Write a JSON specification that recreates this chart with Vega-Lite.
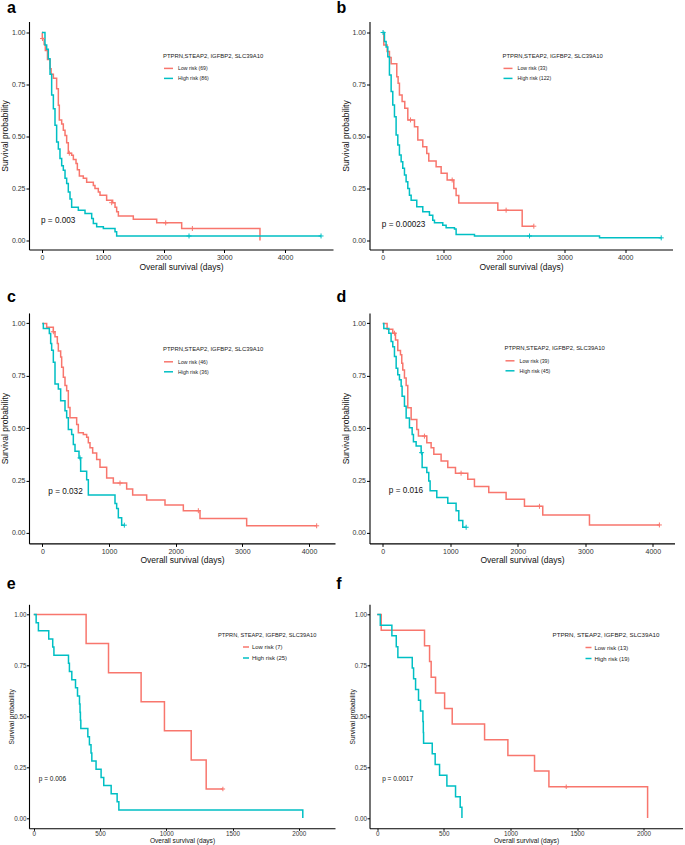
{
"$schema": "https://vega.github.io/schema/vega-lite/v6.json",
"padding": {"left": 0, "top": -0.5, "right": 0, "bottom": 0},
"background": "white",
"config": {
  "font": "Liberation Sans",
  "view": {"stroke": null},
  "line": {"strokeWidth": 1.5},
  "axis": {"grid": false, "domainColor": "#000", "tickColor": "#000", "labelColor": "#333", "titleColor": "#111", "titleFontWeight": "normal", "domainWidth": 1.1, "tickWidth": 1, "labelFontSize": 7, "titleFontSize": 8.5, "tickSize": 3, "labelPadding": 1, "titlePadding": 1.5},
  "title": {"anchor": "start", "frame": "bounds", "fontSize": 16, "fontWeight": "bold", "baseline": "alphabetic", "color": "#000"},
  "legend": {"orient": "none", "titleFontWeight": "normal", "titleColor": "#222", "labelColor": "#222", "symbolType": "stroke", "symbolStrokeWidth": 1.5, "padding": 0, "labelOffset": 4, "titleLimit": 300}
},
"datasets": {
 "a": [
  {"group":"Low risk (69)","time":0,"surv":1},{"group":"Low risk (69)","time":5,"surv":0.971},{"group":"Low risk (69)","time":35,"surv":0.942},{"group":"Low risk (69)","time":55,"surv":0.913},{"group":"Low risk (69)","time":90,"surv":0.87},{"group":"Low risk (69)","time":132,"surv":0.826},{"group":"Low risk (69)","time":150,"surv":0.8},{"group":"Low risk (69)","time":187,"surv":0.78},{"group":"Low risk (69)","time":241,"surv":0.73},{"group":"Low risk (69)","time":269,"surv":0.65},{"group":"Low risk (69)","time":285,"surv":0.58},{"group":"Low risk (69)","time":324,"surv":0.56},{"group":"Low risk (69)","time":351,"surv":0.53},{"group":"Low risk (69)","time":379,"surv":0.505},{"group":"Low risk (69)","time":406,"surv":0.47},{"group":"Low risk (69)","time":433,"surv":0.42},{"group":"Low risk (69)","time":488,"surv":0.41},{"group":"Low risk (69)","time":516,"surv":0.39},{"group":"Low risk (69)","time":560,"surv":0.37},{"group":"Low risk (69)","time":582,"surv":0.34},{"group":"Low risk (69)","time":615,"surv":0.31},{"group":"Low risk (69)","time":680,"surv":0.3},{"group":"Low risk (69)","time":735,"surv":0.28},{"group":"Low risk (69)","time":845,"surv":0.265},{"group":"Low risk (69)","time":872,"surv":0.25},{"group":"Low risk (69)","time":927,"surv":0.234},{"group":"Low risk (69)","time":955,"surv":0.218},{"group":"Low risk (69)","time":1064,"surv":0.194},{"group":"Low risk (69)","time":1163,"surv":0.182},{"group":"Low risk (69)","time":1202,"surv":0.16},{"group":"Low risk (69)","time":1229,"surv":0.138},{"group":"Low risk (69)","time":1257,"surv":0.118},{"group":"Low risk (69)","time":1503,"surv":0.102},{"group":"Low risk (69)","time":1888,"surv":0.085},{"group":"Low risk (69)","time":2299,"surv":0.058},{"group":"Low risk (69)","time":3588,"surv":0},
  {"group":"High risk (86)","time":0,"surv":1},{"group":"High risk (86)","time":49,"surv":0.94},{"group":"High risk (86)","time":77,"surv":0.92},{"group":"High risk (86)","time":104,"surv":0.874},{"group":"High risk (86)","time":132,"surv":0.8},{"group":"High risk (86)","time":159,"surv":0.7},{"group":"High risk (86)","time":187,"surv":0.634},{"group":"High risk (86)","time":214,"surv":0.554},{"group":"High risk (86)","time":241,"surv":0.474},{"group":"High risk (86)","time":269,"surv":0.44},{"group":"High risk (86)","time":296,"surv":0.394},{"group":"High risk (86)","time":324,"surv":0.36},{"group":"High risk (86)","time":351,"surv":0.338},{"group":"High risk (86)","time":379,"surv":0.3},{"group":"High risk (86)","time":406,"surv":0.274},{"group":"High risk (86)","time":433,"surv":0.234},{"group":"High risk (86)","time":461,"surv":0.2},{"group":"High risk (86)","time":488,"surv":0.16},{"group":"High risk (86)","time":598,"surv":0.146},{"group":"High risk (86)","time":708,"surv":0.13},{"group":"High risk (86)","time":818,"surv":0.106},{"group":"High risk (86)","time":845,"surv":0.082},{"group":"High risk (86)","time":900,"surv":0.066},{"group":"High risk (86)","time":1010,"surv":0.058},{"group":"High risk (86)","time":1202,"surv":0.042},{"group":"High risk (86)","time":1229,"surv":0.022},{"group":"High risk (86)","time":4593,"surv":0.022}
 ],
 "ac": [
  {"group":"Low risk (69)","time":8,"surv":0.971},{"group":"Low risk (69)","time":450,"surv":0.42},{"group":"Low risk (69)","time":1147,"surv":0.182},{"group":"Low risk (69)","time":2036,"surv":0.085},{"group":"Low risk (69)","time":2475,"surv":0.058},
  {"group":"High risk (86)","time":2420,"surv":0.022},{"group":"High risk (86)","time":4593,"surv":0.022}
 ],
 "b": [
  {"group":"Low risk (33)","time":0,"surv":1},{"group":"Low risk (33)","time":17,"surv":0.94},{"group":"Low risk (33)","time":72,"surv":0.909},{"group":"Low risk (33)","time":110,"surv":0.88},{"group":"Low risk (33)","time":138,"surv":0.85},{"group":"Low risk (33)","time":231,"surv":0.788},{"group":"Low risk (33)","time":253,"surv":0.756},{"group":"Low risk (33)","time":275,"surv":0.7},{"group":"Low risk (33)","time":319,"surv":0.668},{"group":"Low risk (33)","time":363,"surv":0.636},{"group":"Low risk (33)","time":413,"surv":0.58},{"group":"Low risk (33)","time":523,"surv":0.547},{"group":"Low risk (33)","time":578,"surv":0.483},{"group":"Low risk (33)","time":660,"surv":0.451},{"group":"Low risk (33)","time":726,"surv":0.419},{"group":"Low risk (33)","time":759,"surv":0.382},{"group":"Low risk (33)","time":880,"surv":0.355},{"group":"Low risk (33)","time":963,"surv":0.323},{"group":"Low risk (33)","time":1062,"surv":0.291},{"group":"Low risk (33)","time":1172,"surv":0.25},{"group":"Low risk (33)","time":1210,"surv":0.217},{"group":"Low risk (33)","time":1254,"surv":0.181},{"group":"Low risk (33)","time":1898,"surv":0.146},{"group":"Low risk (33)","time":2300,"surv":0.069},{"group":"Low risk (33)","time":2492,"surv":0.069},
  {"group":"High risk (122)","time":0,"surv":1},{"group":"High risk (122)","time":28,"surv":0.957},{"group":"High risk (122)","time":55,"surv":0.93},{"group":"High risk (122)","time":83,"surv":0.884},{"group":"High risk (122)","time":110,"surv":0.796},{"group":"High risk (122)","time":138,"surv":0.716},{"group":"High risk (122)","time":165,"surv":0.652},{"group":"High risk (122)","time":193,"surv":0.595},{"group":"High risk (122)","time":220,"surv":0.507},{"group":"High risk (122)","time":248,"surv":0.459},{"group":"High risk (122)","time":275,"surv":0.411},{"group":"High risk (122)","time":303,"surv":0.379},{"group":"High risk (122)","time":330,"surv":0.347},{"group":"High risk (122)","time":358,"surv":0.315},{"group":"High risk (122)","time":385,"surv":0.283},{"group":"High risk (122)","time":413,"surv":0.25},{"group":"High risk (122)","time":440,"surv":0.218},{"group":"High risk (122)","time":468,"surv":0.194},{"group":"High risk (122)","time":561,"surv":0.162},{"group":"High risk (122)","time":660,"surv":0.138},{"group":"High risk (122)","time":770,"surv":0.122},{"group":"High risk (122)","time":825,"surv":0.098},{"group":"High risk (122)","time":853,"surv":0.085},{"group":"High risk (122)","time":990,"surv":0.074},{"group":"High risk (122)","time":1045,"surv":0.061},{"group":"High risk (122)","time":1183,"surv":0.055},{"group":"High risk (122)","time":1210,"surv":0.029},{"group":"High risk (122)","time":1513,"surv":0.022},{"group":"High risk (122)","time":3576,"surv":0.013},{"group":"High risk (122)","time":4594,"surv":0.013}
 ],
 "bc": [
  {"group":"Low risk (33)","time":457,"surv":0.58},{"group":"Low risk (33)","time":1145,"surv":0.291},{"group":"Low risk (33)","time":2035,"surv":0.146},{"group":"Low risk (33)","time":2492,"surv":0.069},
  {"group":"High risk (122)","time":5,"surv":1},{"group":"High risk (122)","time":2421,"surv":0.022},{"group":"High risk (122)","time":4594,"surv":0.013}
 ],
 "c": [
  {"group":"Low risk (46)","time":0,"surv":1},{"group":"Low risk (46)","time":65,"surv":0.981},{"group":"Low risk (46)","time":165,"surv":0.96},{"group":"Low risk (46)","time":190,"surv":0.936},{"group":"Low risk (46)","time":225,"surv":0.904},{"group":"Low risk (46)","time":240,"surv":0.868},{"group":"Low risk (46)","time":275,"surv":0.84},{"group":"Low risk (46)","time":290,"surv":0.791},{"group":"Low risk (46)","time":315,"surv":0.743},{"group":"Low risk (46)","time":340,"surv":0.703},{"group":"Low risk (46)","time":365,"surv":0.679},{"group":"Low risk (46)","time":390,"surv":0.599},{"group":"Low risk (46)","time":415,"surv":0.55},{"group":"Low risk (46)","time":515,"surv":0.518},{"group":"Low risk (46)","time":540,"surv":0.478},{"group":"Low risk (46)","time":615,"surv":0.47},{"group":"Low risk (46)","time":665,"surv":0.457},{"group":"Low risk (46)","time":690,"surv":0.43},{"group":"Low risk (46)","time":715,"surv":0.406},{"group":"Low risk (46)","time":755,"surv":0.382},{"group":"Low risk (46)","time":815,"surv":0.35},{"group":"Low risk (46)","time":865,"surv":0.313},{"group":"Low risk (46)","time":965,"surv":0.262},{"group":"Low risk (46)","time":1065,"surv":0.238},{"group":"Low risk (46)","time":1265,"surv":0.21},{"group":"Low risk (46)","time":1355,"surv":0.181},{"group":"Low risk (46)","time":1565,"surv":0.157},{"group":"Low risk (46)","time":1840,"surv":0.133},{"group":"Low risk (46)","time":2115,"surv":0.106},{"group":"Low risk (46)","time":2365,"surv":0.069},{"group":"Low risk (46)","time":3065,"surv":0.034},{"group":"Low risk (46)","time":4115,"surv":0.034},
  {"group":"High risk (36)","time":0,"surv":1},{"group":"High risk (36)","time":15,"surv":0.976},{"group":"High risk (36)","time":105,"surv":0.952},{"group":"High risk (36)","time":125,"surv":0.904},{"group":"High risk (36)","time":140,"surv":0.872},{"group":"High risk (36)","time":165,"surv":0.815},{"group":"High risk (36)","time":190,"surv":0.711},{"group":"High risk (36)","time":240,"surv":0.687},{"group":"High risk (36)","time":275,"surv":0.631},{"group":"High risk (36)","time":340,"surv":0.583},{"group":"High risk (36)","time":365,"surv":0.55},{"group":"High risk (36)","time":390,"surv":0.494},{"group":"High risk (36)","time":440,"surv":0.47},{"group":"High risk (36)","time":465,"surv":0.422},{"group":"High risk (36)","time":490,"surv":0.39},{"group":"High risk (36)","time":550,"surv":0.358},{"group":"High risk (36)","time":575,"surv":0.294},{"group":"High risk (36)","time":665,"surv":0.254},{"group":"High risk (36)","time":690,"surv":0.181},{"group":"High risk (36)","time":1090,"surv":0.141},{"group":"High risk (36)","time":1115,"surv":0.117},{"group":"High risk (36)","time":1140,"surv":0.072},{"group":"High risk (36)","time":1190,"surv":0.037},{"group":"High risk (36)","time":1230,"surv":0.037}
 ],
 "cc": [
  {"group":"Low risk (46)","time":165,"surv":0.96},{"group":"Low risk (46)","time":1165,"surv":0.238},{"group":"Low risk (46)","time":2340,"surv":0.106},{"group":"Low risk (46)","time":4115,"surv":0.034},
  {"group":"High risk (36)","time":565,"surv":0.358},{"group":"High risk (36)","time":1230,"surv":0.037}
 ],
 "d": [
  {"group":"Low risk (39)","time":0,"surv":1},{"group":"Low risk (39)","time":64,"surv":0.972},{"group":"Low risk (39)","time":148,"surv":0.953},{"group":"Low risk (39)","time":188,"surv":0.921},{"group":"Low risk (39)","time":222,"surv":0.87},{"group":"Low risk (39)","time":262,"surv":0.85},{"group":"Low risk (39)","time":281,"surv":0.81},{"group":"Low risk (39)","time":296,"surv":0.778},{"group":"Low risk (39)","time":321,"surv":0.739},{"group":"Low risk (39)","time":346,"surv":0.703},{"group":"Low risk (39)","time":370,"surv":0.597},{"group":"Low risk (39)","time":420,"surv":0.541},{"group":"Low risk (39)","time":504,"surv":0.494},{"group":"Low risk (39)","time":528,"surv":0.462},{"group":"Low risk (39)","time":652,"surv":0.43},{"group":"Low risk (39)","time":716,"surv":0.407},{"group":"Low risk (39)","time":756,"surv":0.375},{"group":"Low risk (39)","time":864,"surv":0.343},{"group":"Low risk (39)","time":963,"surv":0.312},{"group":"Low risk (39)","time":1077,"surv":0.285},{"group":"Low risk (39)","time":1259,"surv":0.256},{"group":"Low risk (39)","time":1358,"surv":0.222},{"group":"Low risk (39)","time":1570,"surv":0.193},{"group":"Low risk (39)","time":1827,"surv":0.161},{"group":"Low risk (39)","time":2099,"surv":0.127},{"group":"Low risk (39)","time":2370,"surv":0.085},{"group":"Low risk (39)","time":3062,"surv":0.038},{"group":"Low risk (39)","time":4098,"surv":0.038},
  {"group":"High risk (45)","time":0,"surv":1},{"group":"High risk (45)","time":15,"surv":0.976},{"group":"High risk (45)","time":89,"surv":0.953},{"group":"High risk (45)","time":123,"surv":0.913},{"group":"High risk (45)","time":148,"surv":0.889},{"group":"High risk (45)","time":173,"surv":0.842},{"group":"High risk (45)","time":198,"surv":0.786},{"group":"High risk (45)","time":222,"surv":0.755},{"group":"High risk (45)","time":247,"surv":0.731},{"group":"High risk (45)","time":272,"surv":0.7},{"group":"High risk (45)","time":286,"surv":0.652},{"group":"High risk (45)","time":321,"surv":0.604},{"group":"High risk (45)","time":346,"surv":0.549},{"group":"High risk (45)","time":395,"surv":0.502},{"group":"High risk (45)","time":435,"surv":0.47},{"group":"High risk (45)","time":454,"surv":0.435},{"group":"High risk (45)","time":494,"surv":0.415},{"group":"High risk (45)","time":568,"surv":0.383},{"group":"High risk (45)","time":583,"surv":0.312},{"group":"High risk (45)","time":652,"surv":0.288},{"group":"High risk (45)","time":681,"surv":0.248},{"group":"High risk (45)","time":701,"surv":0.201},{"group":"High risk (45)","time":800,"surv":0.169},{"group":"High risk (45)","time":963,"surv":0.142},{"group":"High risk (45)","time":1086,"surv":0.106},{"group":"High risk (45)","time":1126,"surv":0.059},{"group":"High risk (45)","time":1185,"surv":0.027},{"group":"High risk (45)","time":1235,"surv":0.027}
 ],
 "dc": [
  {"group":"Low risk (39)","time":173,"surv":0.953},{"group":"Low risk (39)","time":617,"surv":0.462},{"group":"Low risk (39)","time":1160,"surv":0.285},{"group":"Low risk (39)","time":2321,"surv":0.127},{"group":"Low risk (39)","time":4098,"surv":0.038},
  {"group":"High risk (45)","time":575,"surv":0.383},{"group":"High risk (45)","time":1235,"surv":0.027}
 ],
 "e": [
  {"group":"Low risk (7)","time":0,"surv":1},{"group":"Low risk (7)","time":395,"surv":0.857},{"group":"Low risk (7)","time":564,"surv":0.714},{"group":"Low risk (7)","time":810,"surv":0.571},{"group":"Low risk (7)","time":986,"surv":0.429},{"group":"Low risk (7)","time":1188,"surv":0.286},{"group":"Low risk (7)","time":1301,"surv":0.143},{"group":"Low risk (7)","time":1427,"surv":0.143},
  {"group":"High risk (25)","time":0,"surv":1},{"group":"High risk (25)","time":18,"surv":0.96},{"group":"High risk (25)","time":35,"surv":0.92},{"group":"High risk (25)","time":113,"surv":0.88},{"group":"High risk (25)","time":143,"surv":0.84},{"group":"High risk (25)","time":152,"surv":0.8},{"group":"High risk (25)","time":262,"surv":0.76},{"group":"High risk (25)","time":269,"surv":0.72},{"group":"High risk (25)","time":287,"surv":0.68},{"group":"High risk (25)","time":315,"surv":0.64},{"group":"High risk (25)","time":330,"surv":0.6},{"group":"High risk (25)","time":345,"surv":0.56},{"group":"High risk (25)","time":349,"surv":0.52},{"group":"High risk (25)","time":352,"surv":0.48},{"group":"High risk (25)","time":355,"surv":0.44},{"group":"High risk (25)","time":408,"surv":0.4},{"group":"High risk (25)","time":420,"surv":0.36},{"group":"High risk (25)","time":432,"surv":0.32},{"group":"High risk (25)","time":438,"surv":0.28},{"group":"High risk (25)","time":470,"surv":0.24},{"group":"High risk (25)","time":508,"surv":0.2},{"group":"High risk (25)","time":528,"surv":0.16},{"group":"High risk (25)","time":584,"surv":0.12},{"group":"High risk (25)","time":629,"surv":0.08},{"group":"High risk (25)","time":642,"surv":0.04},{"group":"High risk (25)","time":2030,"surv":0}
 ],
 "ec": [
  {"group":"Low risk (7)","time":1427,"surv":0.143}
 ],
 "f": [
  {"group":"Low risk (13)","time":0,"surv":1},{"group":"Low risk (13)","time":30,"surv":0.923},{"group":"Low risk (13)","time":355,"surv":0.846},{"group":"Low risk (13)","time":393,"surv":0.769},{"group":"Low risk (13)","time":405,"surv":0.692},{"group":"Low risk (13)","time":438,"surv":0.615},{"group":"Low risk (13)","time":506,"surv":0.538},{"group":"Low risk (13)","time":563,"surv":0.462},{"group":"Low risk (13)","time":806,"surv":0.385},{"group":"Low risk (13)","time":981,"surv":0.308},{"group":"Low risk (13)","time":1181,"surv":0.231},{"group":"Low risk (13)","time":1289,"surv":0.154},{"group":"Low risk (13)","time":2030,"surv":0},
  {"group":"High risk (19)","time":0,"surv":1},{"group":"High risk (19)","time":23,"surv":0.947},{"group":"High risk (19)","time":110,"surv":0.895},{"group":"High risk (19)","time":143,"surv":0.842},{"group":"High risk (19)","time":155,"surv":0.789},{"group":"High risk (19)","time":263,"surv":0.737},{"group":"High risk (19)","time":273,"surv":0.684},{"group":"High risk (19)","time":288,"surv":0.632},{"group":"High risk (19)","time":310,"surv":0.579},{"group":"High risk (19)","time":325,"surv":0.526},{"group":"High risk (19)","time":343,"surv":0.474},{"group":"High risk (19)","time":346,"surv":0.421},{"group":"High risk (19)","time":348,"surv":0.368},{"group":"High risk (19)","time":413,"surv":0.316},{"group":"High risk (19)","time":435,"surv":0.263},{"group":"High risk (19)","time":468,"surv":0.211},{"group":"High risk (19)","time":523,"surv":0.158},{"group":"High risk (19)","time":588,"surv":0.105},{"group":"High risk (19)","time":623,"surv":0.053},{"group":"High risk (19)","time":636,"surv":0}
 ],
 "fc": [
  {"group":"Low risk (13)","time":1419,"surv":0.154}
 ]
},
"columns": 2,
"align": "all",
"bounds": "flush",
"spacing": {"row": 60.4, "column": 27.5},
"resolve": {"scale": {"color": "independent"}},
"concat": [
  {"width": 304, "height": 228, "title": {"text": "a", "offset": 5.9, "dx": 6},
   "layer": [
    {"data": {"name": "a"}, "mark": {"type": "line", "interpolate": "step-after"},
     "encoding": {
      "x": {"field": "time", "type": "quantitative", "scale": {"domain": [-214, 4790], "nice": false, "zero": false}, "axis": {"values": [0,1000,2000,3000,4000], "format": "d", "title": "Overall survival (days)"}},
      "y": {"field": "surv", "type": "quantitative", "scale": {"domain": [-0.043, 1.053], "nice": false, "zero": false}, "axis": {"values": [0,0.25,0.5,0.75,1], "format": ".2f", "title": "Survival probability"}},
      "color": {"field": "group", "type": "nominal", "scale": {"domain": ["Low risk (69)", "High risk (86)"], "range": ["#F8766D", "#00BFC4"]},
       "legend": {"title": "PTPRN,STEAP2, IGFBP2, SLC39A10", "legendX": 134, "legendY": 31, "titleFontSize": 5.9, "labelFontSize": 5.2, "symbolSize": 81, "rowPadding": 1, "titlePadding": 4.5}}}},
    {"data": {"name": "ac"}, "mark": {"type": "point", "shape": "M-1,0H1M0,-1V1", "size": 25, "filled": false, "strokeWidth": 1, "opacity": 1},
     "encoding": {"x": {"field": "time", "type": "quantitative"}, "y": {"field": "surv", "type": "quantitative"}, "color": {"field": "group", "type": "nominal", "legend": null}}},
    {"data": {"values": [{}]}, "mark": {"type": "text", "text": "p = 0.003", "align": "left", "baseline": "middle", "fontSize": 8.2, "color": "#111"},
     "encoding": {"x": {"datum": -16}, "y": {"datum": 0.093}}}
   ]},
  {"width": 303, "height": 228, "title": {"text": "b", "offset": 5.9, "dx": -5},
   "layer": [
    {"data": {"name": "b"}, "mark": {"type": "line", "interpolate": "step-after"},
     "encoding": {
      "x": {"field": "time", "type": "quantitative", "scale": {"domain": [-219, 4780], "nice": false, "zero": false}, "axis": {"values": [0,1000,2000,3000,4000], "format": "d", "title": "Overall survival (days)"}},
      "y": {"field": "surv", "type": "quantitative", "scale": {"domain": [-0.043, 1.053], "nice": false, "zero": false}, "axis": {"values": [0,0.25,0.5,0.75,1], "format": ".2f", "title": "Survival probability"}},
      "color": {"field": "group", "type": "nominal", "scale": {"domain": ["Low risk (33)", "High risk (122)"], "range": ["#F8766D", "#00BFC4"]},
       "legend": {"title": "PTPRN,STEAP2, IGFBP2, SLC39A10", "legendX": 133, "legendY": 31, "titleFontSize": 5.9, "labelFontSize": 5.2, "symbolSize": 81, "rowPadding": 1, "titlePadding": 4.5}}}},
    {"data": {"name": "bc"}, "mark": {"type": "point", "shape": "M-1,0H1M0,-1V1", "size": 25, "filled": false, "strokeWidth": 1, "opacity": 1},
     "encoding": {"x": {"field": "time", "type": "quantitative"}, "y": {"field": "surv", "type": "quantitative"}, "color": {"field": "group", "type": "nominal", "legend": null}}},
    {"data": {"values": [{}]}, "mark": {"type": "text", "text": "p = 0.00023", "align": "left", "baseline": "middle", "fontSize": 8.2, "color": "#111"},
     "encoding": {"x": {"datum": -15}, "y": {"datum": 0.077}}}
   ]},
  {"width": 306, "height": 230.5, "title": {"text": "c", "offset": 8.3, "dx": 6},
   "layer": [
    {"data": {"name": "c"}, "mark": {"type": "line", "interpolate": "step-after"},
     "encoding": {
      "x": {"field": "time", "type": "quantitative", "scale": {"domain": [-200, 4390], "nice": false, "zero": false}, "axis": {"values": [0,1000,2000,3000,4000], "format": "d", "title": "Overall survival (days)"}},
      "y": {"field": "surv", "type": "quantitative", "scale": {"domain": [-0.05, 1.05], "nice": false, "zero": false}, "axis": {"values": [0,0.25,0.5,0.75,1], "format": ".2f", "title": "Survival probability"}},
      "color": {"field": "group", "type": "nominal", "scale": {"domain": ["Low risk (46)", "High risk (36)"], "range": ["#F8766D", "#00BFC4"]},
       "legend": {"title": "PTPRN,STEAP2, IGFBP2, SLC39A10", "legendX": 134, "legendY": 33, "titleFontSize": 5.9, "labelFontSize": 5.2, "symbolSize": 81, "rowPadding": 1, "titlePadding": 4.5}}}},
    {"data": {"name": "cc"}, "mark": {"type": "point", "shape": "M-1,0H1M0,-1V1", "size": 25, "filled": false, "strokeWidth": 1, "opacity": 1},
     "encoding": {"x": {"field": "time", "type": "quantitative"}, "y": {"field": "surv", "type": "quantitative"}, "color": {"field": "group", "type": "nominal", "legend": null}}},
    {"data": {"values": [{}]}, "mark": {"type": "text", "text": "p = 0.032", "align": "left", "baseline": "middle", "fontSize": 8.2, "color": "#111"},
     "encoding": {"x": {"datum": 90}, "y": {"datum": 0.197}}}
   ]},
  {"width": 305, "height": 230.5, "title": {"text": "d", "offset": 8.3, "dx": -5},
   "layer": [
    {"data": {"name": "d"}, "mark": {"type": "line", "interpolate": "step-after"},
     "encoding": {
      "x": {"field": "time", "type": "quantitative", "scale": {"domain": [-197, 4322], "nice": false, "zero": false}, "axis": {"values": [0,1000,2000,3000,4000], "format": "d", "title": "Overall survival (days)"}},
      "y": {"field": "surv", "type": "quantitative", "scale": {"domain": [-0.05, 1.05], "nice": false, "zero": false}, "axis": {"values": [0,0.25,0.5,0.75,1], "format": ".2f", "title": "Survival probability"}},
      "color": {"field": "group", "type": "nominal", "scale": {"domain": ["Low risk (39)", "High risk (45)"], "range": ["#F8766D", "#00BFC4"]},
       "legend": {"title": "PTPRN,STEAP2, IGFBP2, SLC39A10", "legendX": 135, "legendY": 32, "titleFontSize": 5.9, "labelFontSize": 5.2, "symbolSize": 81, "rowPadding": 1, "titlePadding": 4.5}}}},
    {"data": {"name": "dc"}, "mark": {"type": "point", "shape": "M-1,0H1M0,-1V1", "size": 25, "filled": false, "strokeWidth": 1, "opacity": 1},
     "encoding": {"x": {"field": "time", "type": "quantitative"}, "y": {"field": "surv", "type": "quantitative"}, "color": {"field": "group", "type": "nominal", "legend": null}}},
    {"data": {"values": [{}]}, "mark": {"type": "text", "text": "p = 0.016", "align": "left", "baseline": "middle", "fontSize": 8.2, "color": "#111"},
     "encoding": {"x": {"datum": 89}, "y": {"datum": 0.198}}}
   ]},
  {"width": 306, "height": 224, "title": {"text": "e", "offset": 12.2, "dx": -2},
   "layer": [
    {"data": {"name": "e"}, "mark": {"type": "line", "interpolate": "step-after"},
     "encoding": {
      "x": {"field": "time", "type": "quantitative", "scale": {"domain": [-36, 2273], "nice": false, "zero": false}, "axis": {"values": [0,500,1000,1500,2000], "format": "d", "title": "Overall survival (days)", "labelFontSize": 6.3, "titleFontSize": 6.6, "tickSize": 2, "labelPadding": 0.5, "titlePadding": 0.5}},
      "y": {"field": "surv", "type": "quantitative", "scale": {"domain": [-0.05, 1.05], "nice": false, "zero": false}, "axis": {"values": [0,0.25,0.5,0.75,1], "format": ".2f", "title": "Survival probability", "labelFontSize": 6.3, "titleFontSize": 6.6, "tickSize": 2.5, "labelPadding": 0.5, "titlePadding": -1}},
      "color": {"field": "group", "type": "nominal", "scale": {"domain": ["Low risk (7)", "High risk (25)"], "range": ["#F8766D", "#00BFC4"]},
       "legend": {"title": "PTPRN, STEAP2, IGFBP2, SLC39A10", "legendX": 189, "legendY": 28, "titleFontSize": 5.7, "labelFontSize": 5.9, "symbolSize": 36, "symbolOffset": 24, "rowPadding": 4, "titlePadding": 5, "labelOffset": 2}}}},
    {"data": {"name": "ec"}, "mark": {"type": "point", "shape": "M-1,0H1M0,-1V1", "size": 20, "filled": false, "strokeWidth": 1, "opacity": 1},
     "encoding": {"x": {"field": "time", "type": "quantitative"}, "y": {"field": "surv", "type": "quantitative"}, "color": {"field": "group", "type": "nominal", "legend": null}}},
    {"data": {"values": [{}]}, "mark": {"type": "text", "text": "p = 0.006", "align": "left", "baseline": "middle", "fontSize": 6.5, "color": "#111"},
     "encoding": {"x": {"datum": 38}, "y": {"datum": 0.19}}}
   ]},
  {"width": 313, "height": 224, "title": {"text": "f", "offset": 12.2, "dx": -13},
   "layer": [
    {"data": {"name": "f"}, "mark": {"type": "line", "interpolate": "step-after"},
     "encoding": {
      "x": {"field": "time", "type": "quantitative", "scale": {"domain": [-58, 2292], "nice": false, "zero": false}, "axis": {"values": [0,500,1000,1500,2000], "format": "d", "title": "Overall survival (days)", "labelFontSize": 6.3, "titleFontSize": 6.6, "tickSize": 2, "labelPadding": 0.5, "titlePadding": 0.5}},
      "y": {"field": "surv", "type": "quantitative", "scale": {"domain": [-0.05, 1.05], "nice": false, "zero": false}, "axis": {"values": [0,0.25,0.5,0.75,1], "format": ".2f", "title": "Survival probability", "labelFontSize": 6.3, "titleFontSize": 6.6, "tickSize": 2.5, "labelPadding": 0.5, "titlePadding": -1}},
      "color": {"field": "group", "type": "nominal", "scale": {"domain": ["Low risk (13)", "High risk (19)"], "range": ["#F8766D", "#00BFC4"]},
       "legend": {"title": "PTPRN, STEAP2, IGFBP2, SLC39A10", "legendX": 183, "legendY": 28, "titleFontSize": 6.2, "labelFontSize": 5.9, "symbolSize": 36, "symbolOffset": 32, "rowPadding": 4, "titlePadding": 5, "labelOffset": 2}}}},
    {"data": {"name": "fc"}, "mark": {"type": "point", "shape": "M-1,0H1M0,-1V1", "size": 20, "filled": false, "strokeWidth": 1, "opacity": 1},
     "encoding": {"x": {"field": "time", "type": "quantitative"}, "y": {"field": "surv", "type": "quantitative"}, "color": {"field": "group", "type": "nominal", "legend": null}}},
    {"data": {"values": [{}]}, "mark": {"type": "text", "text": "p = 0.0017", "align": "left", "baseline": "middle", "fontSize": 6.5, "color": "#111"},
     "encoding": {"x": {"datum": 37}, "y": {"datum": 0.193}}}
   ]}
]
}
